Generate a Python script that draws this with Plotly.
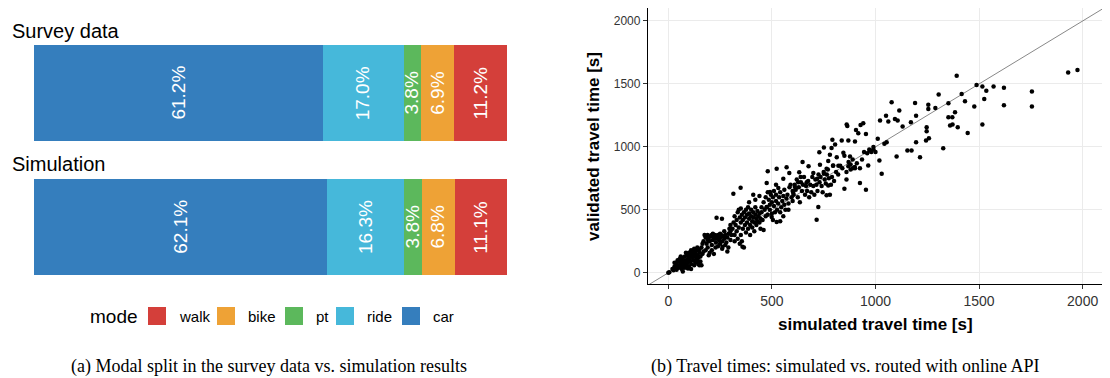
import numpy as np
import plotly.graph_objects as go

# ---------------- data: modal split ----------------
modes = ["walk", "bike", "pt", "ride", "car"]          # legend order
survey_share = [11.2, 6.9, 3.8, 17.0, 61.2]
simulation_share = [11.1, 6.8, 3.8, 16.3, 62.1]
panel_rows = ["Survey data", "Simulation"]

# ---------------- data: travel times ----------------
sim_time = [
    0, 5, 20, 25, 30, 35, 40, 40, 45, 50,
    50, 55, 55, 60, 60, 65, 65, 70, 70, 75,
    75, 80, 80, 85, 85, 90, 90, 95, 95, 100,
    100, 100, 105, 105, 110, 110, 115, 115, 120, 120,
    125, 125, 130, 130, 135, 135, 140, 140, 145, 145,
    150, 150, 155, 155, 160, 160, 165, 170, 110, 60,
    45, 30, 85, 125, 140, 70, 95, 150,
    170, 175, 180, 185, 190, 190, 195, 200, 200, 205,
    210, 210, 215, 220, 220, 225, 230, 230, 235, 240,
    240, 245, 250, 250, 255, 260, 260, 265, 270, 270,
    275, 280, 285, 290, 290, 295, 300, 300, 180, 195,
    165, 210, 250, 275, 285, 233, 259, 300, 305, 190,
    215, 245, 228,
    310, 315, 320, 320, 325, 330, 330, 335, 340, 340,
    345, 350, 350, 350, 355, 355, 360, 360, 365, 365,
    370, 370, 375, 375, 380, 380, 385, 385, 390, 390,
    395, 395, 400, 400, 405, 405, 410, 410, 415, 415,
    420, 420, 425, 425, 430, 430, 435, 440, 440, 445,
    445, 450, 450, 320, 335, 345, 358, 262, 390, 420,
    440, 410,
    455, 460, 465, 470, 470, 475, 480, 480, 485, 490,
    490, 495, 500, 500, 505, 510, 510, 515, 520, 520,
    525, 530, 535, 540, 540, 545, 550, 555, 560, 560,
    565, 570, 575, 580, 585, 590, 595, 600, 540, 460,
    520, 580, 600, 555, 505,
    605, 610, 615, 620, 625, 630, 635, 640, 645, 650,
    655, 660, 665, 670, 675, 680, 685, 690, 695, 700,
    705, 710, 715, 720, 725, 730, 735, 740, 745, 750,
    755, 760, 765, 770, 775, 780, 785, 790, 795, 800,
    1930, 1975, 1755, 1755, 1620, 1620, 1570, 1535, 1525, 1516,
    1488, 1516, 1477, 1445, 1432, 1416, 1392, 1384, 1371, 1352,
    1352, 1360, 1372, 1397, 1327, 1305, 1289, 1255, 1255, 1247,
    1247, 1258, 1244, 1215, 1196, 1191, 1196, 1171, 1174, 1154,
    1131, 1115, 1107, 1094, 1102, 1078, 1062, 1051, 1054, 1043,
    1030, 1022, 1019, 1011, 990, 973, 965, 954, 954, 941,
    928, 925, 917, 906, 901, 890, 901, 877, 864, 861,
    869, 869, 850, 845, 850, 837, 821, 813, 805, 792,
    788, 780, 772, 796, 764, 751, 732, 729, 751, 772,
    764, 719, 716, 724, 700, 677, 668, 648, 639, 632,
    627, 611, 603, 584, 571, 555, 531, 523, 480, 475,
    491, 523, 499, 475, 349, 314,
    810, 820, 830, 840, 860, 870, 880, 890, 900, 910,
    925, 935, 945, 960, 970, 980, 990, 1000, 860, 880,
]
val_time = [
    0, 5, 30, 20, 50, 40, 70, 25, 55, 90,
    40, 60, 110, 80, 45, 100, 30, 120, 70, 55,
    90, 130, 40, 100, 75, 140, 60, 110, 85, 160,
    120, 50, 95, 140, 180, 70, 125, 150, 100, 170,
    190, 130, 80, 155, 110, 175, 200, 140, 120, 70,
    160, 185, 90, 130, 200, 60, 150, 170, 30, 130,
    100, 80, 160, 60, 95, 10, 35, 60,
    250, 300, 280, 230, 300, 200, 270, 250, 160, 290,
    300, 220, 260, 280, 150, 300, 240, 270, 290, 300,
    210, 260, 280, 230, 300, 250, 190, 290, 270, 330,
    300, 240, 280, 310, 200, 350, 260, 330, 180, 140,
    230, 180, 310, 220, 170, 438, 430, 380, 300, 260,
    310, 300, 200,
    350, 400, 300, 450, 380, 420, 330, 480, 360, 500,
    440, 400, 300, 510, 460, 250, 420, 350, 480, 200,
    380, 440, 500, 320, 460, 400, 350, 520, 430, 470,
    380, 300, 450, 500, 410, 360, 480, 440, 400, 330,
    460, 520, 430, 380, 490, 410, 450, 470, 400, 430,
    350, 480, 520, 250, 270, 230, 206, 206, 560, 580,
    610, 620,
    420, 560, 500, 450, 600, 520, 460, 640, 580, 500,
    540, 620, 470, 560, 600, 530, 650, 480, 570, 620,
    500, 550, 600, 640, 480, 520, 570, 610, 660, 540,
    500, 590, 620, 550, 680, 700, 600, 570, 410, 340,
    700, 500, 650, 450, 420,
    620, 700, 660, 740, 600, 680, 560, 720, 650, 700,
    760, 620, 690, 650, 730, 600, 700, 640, 760, 690,
    620, 740, 700, 650, 780, 720, 760, 690, 640, 800,
    740, 710, 780, 820, 750, 620, 700, 760, 850, 730,
    1590, 1610, 1440, 1320, 1470, 1330, 1480, 1445, 1380, 1480,
    1491, 1177, 1320, 1111, 1362, 1420, 1565, 1275, 1235, 1235,
    1346, 1169, 1177, 1156, 990, 1417, 1309, 1301, 1335, 1156,
    1124, 1069, 1050, 918, 1037, 1348, 1248, 1195, 971, 971,
    1161, 1288, 1209, 1222, 924, 1354, 1201, 1248, 1037, 1024,
    786, 1209, 892, 1064, 979, 971, 852, 1103, 660, 1188,
    1174, 713, 1108, 1135, 1042, 831, 831, 924, 1166, 1177,
    1050, 847, 929, 953, 668, 1050, 850, 918, 1019, 1056,
    992, 937, 887, 852, 826, 995, 858, 958, 786, 694,
    615, 747, 422, 523, 792, 847, 720, 879, 760, 799,
    720, 681, 633, 792, 839, 747, 673, 826, 807, 713,
    641, 404, 443, 523, 676, 628,
    800, 780, 850, 830, 800, 880, 860, 900, 840, 870,
    830, 900, 960, 950, 980, 960, 1000, 960, 740, 820,
]
tick_vals = [0, 500, 1000, 1500, 2000]

# ---------------- styles ----------------
mode_colors = {"walk": "#D43F3A", "bike": "#EEA236", "pt": "#5CB85C",
               "ride": "#46B8DA", "car": "#357EBD"}
SANS = "Liberation Sans, Arial, Helvetica, sans-serif"
SERIF = "Liberation Serif, Times New Roman, serif"
PAGE_OFF = 8          # default body margin of the html page
W, H = 1102, 370      # figure size so that it ends at the window edge


def px_x(v):
    """page pixel x -> paper fraction"""
    return (v - PAGE_OFF) / W


def px_y(v):
    """page pixel y (from top) -> paper fraction"""
    return (H - (v - PAGE_OFF)) / H


def note(x, y, text, size, family=SANS, color="black", xanchor="center", angle=0):
    return dict(x=px_x(x), y=px_y(y), xref="paper", yref="paper", text=text,
                showarrow=False, xanchor=xanchor, yanchor="middle", textangle=angle,
                font=dict(family=family, size=size, color=color))


fig = go.Figure()

# stacked bars: car on the left ... walk on the right
stack_order = list(reversed(modes))
row_pos = [1, 0]  # survey on top, simulation below
shares = {"Survey data": dict(zip(modes, survey_share)),
          "Simulation": dict(zip(modes, simulation_share))}
for m in stack_order:
    fig.add_trace(go.Bar(
        x=[shares[r][m] for r in panel_rows], y=row_pos, orientation="h",
        marker=dict(color=mode_colors[m], line=dict(width=0)),
        width=0.716, name=m, showlegend=False, xaxis="x", yaxis="y",
        hoverinfo="x+name",
    ))

annotations = []
for r, yp in zip(panel_rows, row_pos):
    vals = np.array([shares[r][m] for m in stack_order])
    ends = np.cumsum(vals)
    mids = ends - vals / 2
    for v, mid in zip(vals, mids):
        annotations.append(dict(
            x=mid, y=yp, xref="x", yref="y", text=f"{v:.1f}%", showarrow=False,
            xanchor="center", yanchor="middle",
            textangle=-90, font=dict(family=SANS, size=19, color="white"),
        ))

total = max(sum(survey_share), sum(simulation_share))

# facet titles
for r, ypix in zip(panel_rows, [31, 164]):
    annotations.append(note(10, ypix, r, 20, xanchor="left"))

# manual legend
annotations.append(note(88, 316, "mode", 19, xanchor="left"))
swatch_left = [148, 217, 285, 336, 402]
shapes = []
for m, sx in zip(modes, swatch_left):
    shapes.append(dict(type="rect", xref="paper", yref="paper",
                       x0=px_x(sx), x1=px_x(sx + 18), y0=px_y(325), y1=px_y(307),
                       fillcolor=mode_colors[m], line=dict(width=0)))
    annotations.append(note(sx + 29, 316, m, 15, xanchor="left"))

# scatter
xr = [-98, 2132]
yr = [-89, 2103]
diag = [-300, 2400]
fig.add_trace(go.Scatter(x=diag, y=diag, mode="lines", xaxis="x2", yaxis="y2",
                         line=dict(color="#555555", width=0.7), showlegend=False,
                         hoverinfo="skip"))
fig.add_trace(go.Scatter(x=sim_time, y=val_time, mode="markers", xaxis="x2", yaxis="y2",
                         marker=dict(color="black", size=4.5), showlegend=False))

annotations += [
    note(875, 324, "<b>simulated travel time [s]</b>", 17),
    note(593, 147, "<b>validated travel time [s]</b>", 17, angle=-90),
    note(269, 366, "(a) Modal split in the survey data vs. simulation results", 18, family=SERIF),
    note(845, 366, "(b) Travel times: simulated vs. routed with online API", 18, family=SERIF),
]

axis_common = dict(tickvals=tick_vals, showline=True, linecolor="black", linewidth=1.3,
                   ticks="outside", ticklen=4, tickcolor="#333333", tickwidth=1,
                   showgrid=True, gridcolor="#ebebeb", gridwidth=1, zeroline=False)

fig.update_layout(
    width=W, height=H, margin=dict(l=0, r=0, t=0, b=0),
    paper_bgcolor="white", plot_bgcolor="white",
    barmode="stack", bargap=0, showlegend=False,
    xaxis=dict(domain=[px_x(34), px_x(507)], range=[0, total], visible=False, fixedrange=True),
    yaxis=dict(domain=[px_y(294), px_y(26)], range=[-0.5, 1.5], visible=False, fixedrange=True),
    xaxis2=dict(domain=[px_x(648), 1.0], range=xr, anchor="y2",
                tickfont=dict(family=SANS, size=14, color="#333333"), **axis_common),
    yaxis2=dict(domain=[px_y(284), min(1.0, px_y(7))], range=yr, anchor="x2",
                tickfont=dict(family=SANS, size=12, color="#333333"), **axis_common),
    annotations=annotations, shapes=shapes,
)

fig.write_html("out.html")
